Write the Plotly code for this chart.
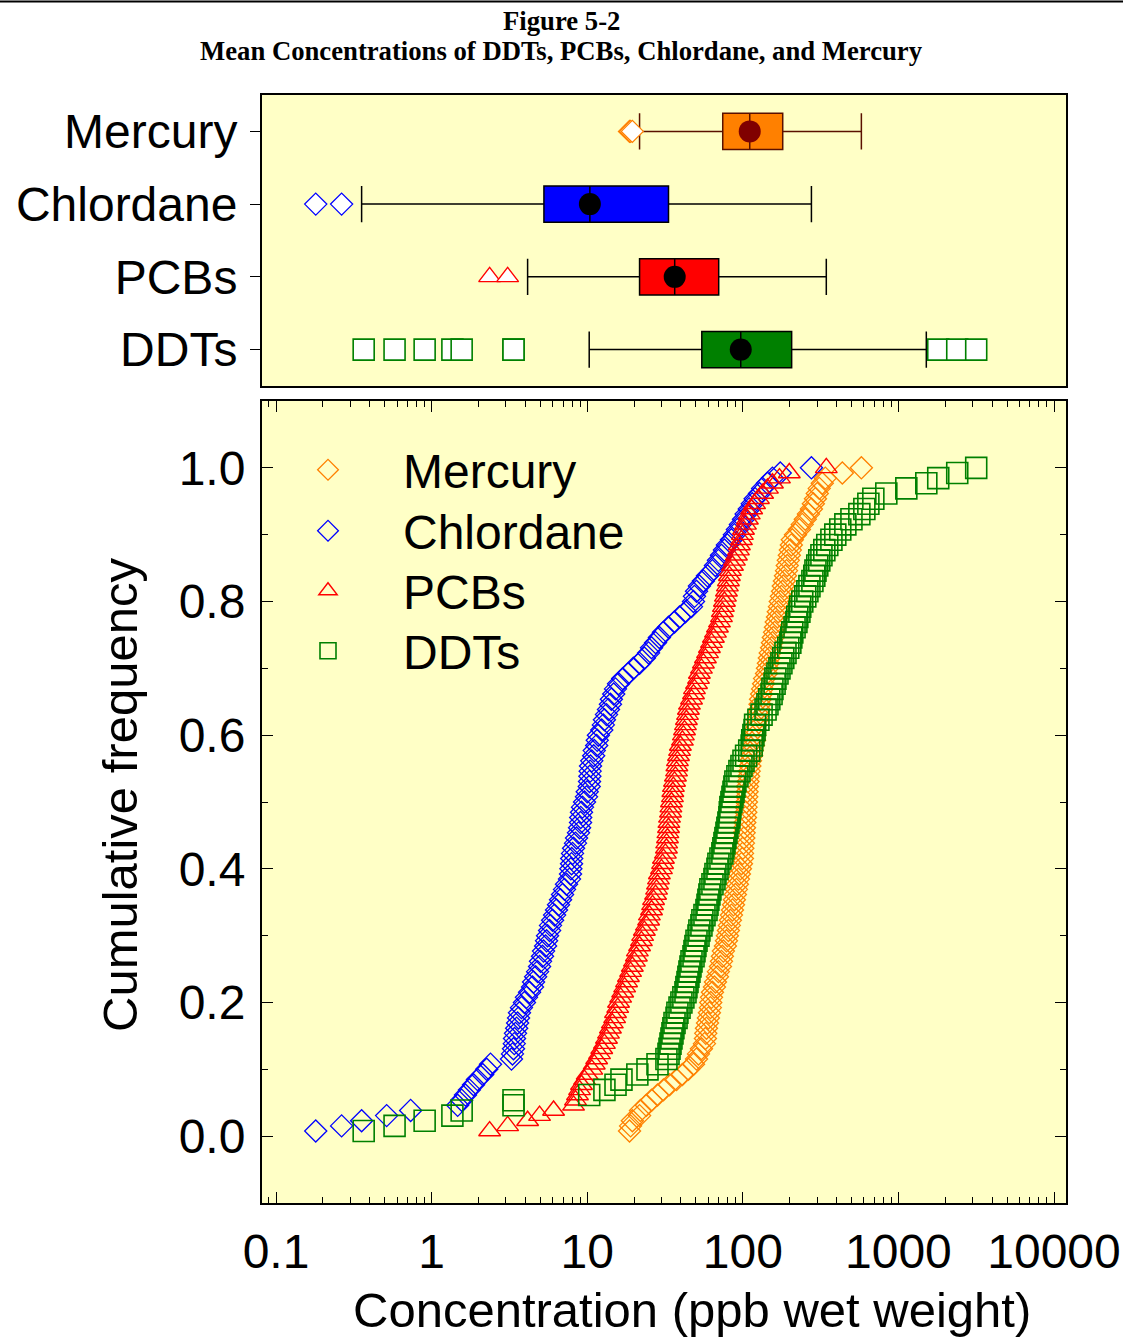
import numpy as np
import plotly.graph_objects as go

# ---------------- data ----------------
categories = ["Mercury", "Chlordane", "PCBs", "DDTs"]
colors = ["#FF8000", "#0000FF", "#FF0000", "#008000"]
mean_colors = ["#800000", "#000000", "#000000", "#000000"]

mercury = [18.7, 19.0, 19.5, 21.7, 22.0, 24.0, 25.9, 28.3, 30.9, 33.8, 37.5, 40.9, 44.7, 48.2, 50.4,
           51.9, 54.2, 56.7, 57.5, 57.8, 58.4, 59.3, 60.1, 61.0, 61.9, 62.2, 62.9, 63.8, 65.7, 66.7,
           68.7, 69.7, 71.8, 72.9, 73.9, 75.0, 77.3, 78.5, 79.6, 80.8, 82.0, 83.2, 84.5, 85.8, 87.1,
           88.3, 89.6, 91.0, 92.3, 93.7, 95.1, 96.5, 98.0, 99.4, 99.6, 100, 101, 101.5, 102, 102.5,
           103, 104, 104.5, 105, 105.5, 106, 106.5, 107, 108, 109, 110, 111, 112, 114, 115,
           117, 119, 119.5, 120, 122, 124, 126, 128, 129, 130, 132, 134, 136, 138, 142,
           144, 146, 148, 150, 153, 155, 157, 160, 162, 164, 167, 169, 172, 174, 177,
           180, 182, 185, 188, 191, 193, 196, 199, 202, 205, 208, 218, 231, 241, 252,
           264, 276, 284, 293, 301, 310, 324, 339, 436, 578]

chlordane = [0.180, 0.264, 0.355, 0.514, 0.733, 1.47, 1.56, 1.65, 1.75, 1.86, 1.97, 2.13, 2.26, 2.39, 3.26,
             3.31, 3.36, 3.40, 3.41, 3.46, 3.52, 3.57, 3.62, 3.67, 3.78, 3.95, 4.07, 4.26, 4.45, 4.52,
             4.66, 4.80, 4.94, 5.01, 5.16, 5.24, 5.40, 5.48, 5.56, 5.73, 5.81, 5.99, 6.17, 6.35, 6.54,
             6.74, 6.94, 7.15, 7.36, 7.69, 7.81, 7.85, 7.93, 7.95, 8.05, 8.17, 8.41, 8.54, 8.79, 8.93,
             9.06, 9.08, 9.19, 9.33, 9.61, 9.89, 10.0, 10.3, 10.35, 10.4, 10.45, 10.5, 10.7, 11.0, 11.1,
             11.5, 11.6, 11.8, 12.4, 12.7, 12.9, 13.3, 13.7, 14.1, 14.3, 14.8, 15.2, 15.9, 16.9, 18.4,
             19.8, 21.7, 23.3, 24.8, 25.9, 27.5, 29.1, 30.9, 33.3, 36.4, 39.2, 42.8, 46.8, 48.2, 48.9,
             50.4, 52.6, 55.8, 59.3, 63.8, 66.7, 69.7, 72.9, 76.2, 79.6, 84.5, 88.3, 92.3, 96.5, 101,
             105, 110, 115, 120, 128, 134, 144, 155, 174, 276]

pcbs = [2.36, 3.08, 4.14, 4.94, 6.08, 8.17, 8.41, 8.66, 8.93, 9.19, 9.61, 10.0, 10.7, 11.1, 11.5,
        12.0, 12.4, 12.9, 13.3, 13.7, 14.1, 14.5, 15.0, 15.2, 15.7, 15.9, 16.4, 16.9, 17.4, 17.9,
        18.4, 19.0, 19.5, 20.1, 20.7, 21.0, 21.7, 22.3, 22.7, 23.3, 24.0, 24.8, 25.1, 25.9, 26.3,
        26.7, 27.5, 27.9, 28.3, 28.7, 29.1, 30.0, 30.5, 30.9, 31.8, 32.3, 32.4, 32.8, 33.0, 33.3,
        33.5, 33.8, 34.3, 34.5, 34.8, 35.3, 35.5, 35.8, 36.4, 36.9, 37.5, 37.7, 38.0, 38.6, 39.2,
        39.7, 40.9, 41.5, 42.2, 42.8, 43.4, 44.1, 44.7, 45.4, 46.8, 48.2, 48.9, 50.4, 51.9, 52.6,
        54.2, 55.8, 57.5, 59.3, 61.0, 62.9, 64.7, 66.7, 68.7, 70.8, 72.9, 73.9, 75.0, 76.2, 77.3,
        78.5, 79.6, 80.8, 82.0, 83.2, 85.8, 88.3, 91.0, 93.7, 95.1, 98.0, 99.4, 101, 104, 107,
        110, 114, 119, 126, 134, 144, 155, 172, 199, 344]

ddts = [0.366, 0.578, 0.902, 1.36, 1.56, 3.36, 3.36, 10.3, 12.9, 15.2, 16.6, 21.0, 24.4, 28.3, 32.3,
        33.3, 33.8, 34.3, 34.8, 35.3, 35.8, 36.4, 37.5, 38.0, 39.2, 40.3, 41.5, 42.8, 43.4, 44.1,
        44.7, 45.4, 46.1, 46.8, 48.2, 48.9, 49.6, 50.4, 51.9, 52.6, 54.2, 55.0, 56.7, 58.4, 59.3,
        60.1, 61.0, 61.9, 63.8, 65.7, 66.7, 68.7, 69.7, 71.8, 73.9, 75.0, 76.2, 77.3, 78.5, 79.6,
        80.8, 82.0, 82.5, 83.2, 84.5, 85.8, 87.1, 88.3, 89.6, 92.3, 95.1, 98.0, 101, 105, 110,
        114, 115, 117, 119, 120, 126, 132, 140, 144, 148, 153, 155, 160, 162, 167,
        172, 177, 182, 188, 196, 202, 205, 208, 215, 221, 224, 231, 234, 241, 252,
        260, 268, 280, 288, 293, 301, 310, 320, 334, 349, 371, 393, 423, 456, 499,
        561, 604, 641, 690, 836, 1124, 1511, 1803, 2388, 3162]

# box-plot statistics (order: Mercury, Chlordane, PCBs, DDTs)
box_q1 = [74.3, 5.27, 21.7, 54.5]
box_median = [110.8, 10.4, 36.5, 97.0]
box_q3 = [180.5, 33.3, 70.0, 206.0]
box_low = [21.7, 0.355, 4.14, 10.3]
box_high = [578, 276, 344, 1511]
box_mean = [110.8, 10.4, 36.5, 97.0]

x_tick_vals = [0.1, 1, 10, 100, 1000, 10000]
x_tick_text = ["0.1", "1", "10", "100", "1000", "10000"]

# ---------------- styling ----------------
series = [mercury, chlordane, pcbs, ddts]
open_symbols = ["diamond-open", "diamond-open", "triangle-up-open", "square-open"]
fill_symbols = ["diamond", "diamond", "triangle-up", "square"]
msizes = [17, 17, 19, 21]
mlw = [1.3, 1.3, 1.4, 1.6]
box_line = ["#5a1000", "#000000", "#000000", "#000000"]
legend_names = ["legend", "legend2", "legend3", "legend4"]
legend_rows_px = [470, 531, 591, 651]

FONT = "Arial, Liberation Sans, sans-serif"
W, H = 1123, 1337
BG = "#FFFFC6"

fig = go.Figure()

# ---- bottom panel: cumulative frequency ----
for name, vals, col, sym, ms, lw, lg in zip(categories, series, colors, open_symbols, msizes, mlw, legend_names):
    v = np.array(vals, dtype=float)
    n = len(v)
    F = np.arange(1, n + 1) / n
    fig.add_trace(go.Scatter(
        x=v, y=F, mode="markers", name=name, xaxis="x", yaxis="y",
        marker=dict(symbol=sym, size=ms, color=col, line=dict(color=col, width=lw)),
        showlegend=True, legend=lg))

# ---- top panel: box plots ----
for k, name in enumerate(categories):
    fig.add_trace(go.Box(
        y=[name], q1=[box_q1[k]], median=[box_median[k]], q3=[box_q3[k]],
        lowerfence=[box_low[k]], upperfence=[box_high[k]],
        orientation="h", xaxis="x2", yaxis="y2", width=0.5, whiskerwidth=1,
        fillcolor=colors[k], line=dict(color=box_line[k], width=1.5),
        boxpoints=False, showlegend=False, hoverinfo="skip"))
    vals = np.array(series[k], dtype=float)
    outs = vals[(vals < box_low[k]) | (vals > box_high[k])]
    fig.add_trace(go.Scatter(
        x=outs, y=[name] * len(outs), mode="markers", xaxis="x2", yaxis="y2",
        marker=dict(symbol=fill_symbols[k], size=msizes[k], color="white",
                    line=dict(color=colors[k], width=mlw[k])),
        showlegend=False, hoverinfo="skip"))
    fig.add_trace(go.Scatter(
        x=[box_mean[k]], y=[name], mode="markers", xaxis="x2", yaxis="y2",
        marker=dict(symbol="circle", size=22, color=mean_colors[k]),
        showlegend=False, hoverinfo="skip"))

xd = [262 / W, 1066 / W]
xrange = [-1.09, 4.077]

legend_common = dict(xanchor="left", yanchor="middle", bgcolor="rgba(0,0,0,0)", borderwidth=0,
                     itemwidth=140, font=dict(size=48, family=FONT))
legends = {lg: dict(x=253 / W, y=1 - py / H, **legend_common) for lg, py in zip(legend_names, legend_rows_px)}

fig.update_layout(
    width=W, height=H, margin=dict(l=0, r=0, t=0, b=0, autoexpand=False),
    paper_bgcolor="white", plot_bgcolor=BG,
    font=dict(family=FONT, color="black", size=48),
    xaxis=dict(domain=xd, type="log", range=xrange, anchor="y", automargin=False,
               tickmode="array", tickvals=x_tick_vals, ticktext=x_tick_text,
               ticks="inside", ticklen=11, tickwidth=1.2, tickcolor="black",
               minor=dict(ticks="inside", ticklen=6, tickwidth=1, tickcolor="black", dtick="D1", showgrid=False),
               showline=True, linecolor="black", linewidth=2, mirror="ticks",
               showgrid=False, zeroline=False, tickfont=dict(size=48, family=FONT),
               ticklabelstandoff=5),
    yaxis=dict(domain=[1 - 1203 / H, 1 - 401 / H], range=[-0.1, 1.1], anchor="x", automargin=False,
               tickmode="linear", tick0=0, dtick=0.2, tickformat=".1f",
               ticks="inside", ticklen=11, tickwidth=1.2, tickcolor="black",
               minor=dict(ticks="inside", ticklen=6, tickwidth=1, tickcolor="black", dtick=0.1, showgrid=False),
               showline=True, linecolor="black", linewidth=2, mirror="ticks",
               showgrid=False, zeroline=False, tickfont=dict(size=48, family=FONT),
               ticklabelstandoff=5),
    xaxis2=dict(domain=xd, type="log", range=xrange, anchor="y2", automargin=False,
                showticklabels=False, ticks="", showline=True, linecolor="black",
                linewidth=2, mirror=True, showgrid=False, zeroline=False),
    yaxis2=dict(domain=[1 - 386 / H, 1 - 95 / H], anchor="x2", type="category", automargin=False,
                categoryorder="array", categoryarray=["DDTs", "PCBs", "Chlordane", "Mercury"],
                range=[-0.5, 3.5], ticks="outside", ticklen=10, tickwidth=1.2, tickcolor="black",
                showline=True, linecolor="black", linewidth=2, mirror=True,
                showgrid=False, zeroline=False, tickfont=dict(size=48, family=FONT),
                ticklabelstandoff=3),
    showlegend=True,
    **legends,
)

fig.add_annotation(text="<b>Figure 5-2</b>", x=561 / W, y=1 - 21 / H, xref="paper", yref="paper",
                   showarrow=False, xanchor="center", yanchor="middle",
                   font=dict(family="Liberation Serif, Times New Roman, serif", size=26.7))
fig.add_annotation(text="<b>Mean Concentrations of DDTs, PCBs, Chlordane, and Mercury</b>",
                   x=561 / W, y=1 - 51 / H, xref="paper", yref="paper",
                   showarrow=False, xanchor="center", yanchor="middle",
                   font=dict(family="Liberation Serif, Times New Roman, serif", size=26.7))
fig.add_annotation(text="Cumulative frequency", textangle=-90, x=120 / W, y=1 - 795 / H,
                   xref="paper", yref="paper", showarrow=False, xanchor="center", yanchor="middle",
                   font=dict(size=49, family=FONT))
fig.add_annotation(text="Concentration (ppb wet weight)", x=692 / W, y=1 - 1310 / H,
                   xref="paper", yref="paper", showarrow=False, xanchor="center", yanchor="middle",
                   font=dict(size=49, family=FONT))
fig.add_shape(type="line", xref="paper", yref="paper", x0=0, x1=1, y0=1 - 1.5 / H, y1=1 - 1.5 / H,
              line=dict(color="black", width=2))

fig.write_html("out.html")
